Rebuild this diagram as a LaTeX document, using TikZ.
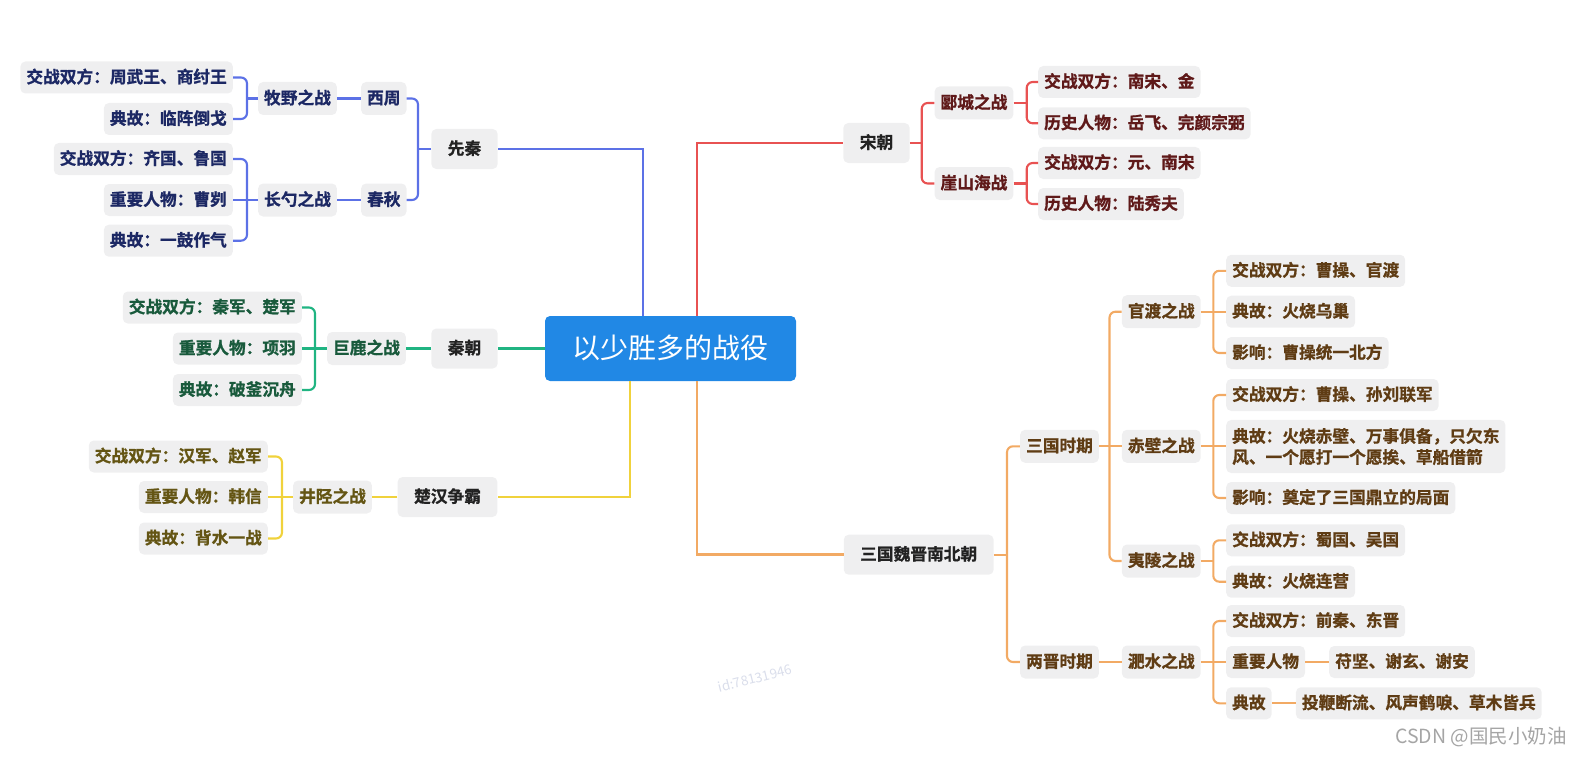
\documentclass[tikz,border=0pt]{standalone}
\usepackage{fontspec}
\setmainfont{Noto Sans CJK SC}[BoldFont={Noto Sans CJK SC Bold}, BoldFeatures={FakeBold=1.0}]
\definecolor{nodefill}{RGB}{239,239,240}
\definecolor{rootfill}{RGB}{33,136,229}
\definecolor{toptext}{RGB}{34,34,34}
\definecolor{bluel}{RGB}{92,113,230}
\definecolor{bluet}{RGB}{28,40,100}
\definecolor{greenl}{RGB}{32,180,130}
\definecolor{greent}{RGB}{25,90,60}
\definecolor{yellowl}{RGB}{240,210,60}
\definecolor{yellowt}{RGB}{100,85,20}
\definecolor{redl}{RGB}{232,82,82}
\definecolor{redt}{RGB}{95,25,25}
\definecolor{orangel}{RGB}{242,170,100}
\definecolor{oranget}{RGB}{95,60,20}
\definecolor{wmgray}{RGB}{218,222,235}
\definecolor{csdngray}{RGB}{165,165,165}
\tikzset{
  box/.style={fill=nodefill, rounded corners=5pt, font=\bfseries\fontsize{16.7}{21}\selectfont},
  boxh/.style={box, text height=14pt, text depth=3pt},
  topbox/.style={boxh, inner xsep=16.5pt, inner ysep=11.5pt, text=toptext},
  midbox/.style={boxh, inner xsep=6pt, inner ysep=8pt},
  leaf/.style={boxh, inner xsep=6pt, inner ysep=7.5pt},
  leafml/.style={box, inner xsep=6pt, inner ysep=8pt, align=left},
  rootbox/.style={fill=rootfill, rounded corners=5pt, text=white, font=\fontsize{28}{30}\selectfont,
    inner xsep=27.5pt, inner ysep=18pt, text height=24pt, text depth=5pt},
  ln/.style={line width=2.1pt, rounded corners=6pt},
  rootln/.style={line width=2.7pt},
}
\begin{document}
\begin{tikzpicture}[x=1pt, y=-1pt]
\useasboundingbox (0,0) rectangle (1582,757);

% root
\node[rootbox] (root) at (670.5,348.5) {以少胜多的战役};

% ---------------- blue: 先秦
\begin{scope}[every node/.append style={text=bluet}]
\node[topbox] (xianqin) at (464.5,149) {先秦};
\node[midbox] (xizhou) at (383.8,98.5) {西周};
\node[midbox] (chunqiu) at (383.8,200) {春秋};
\node[midbox] (muye) at (297.5,98.5) {牧野之战};
\node[midbox] (changshao) at (297.5,200) {长勺之战};
\node[leaf, anchor=east] (b1) at (233,77.5) {交战双方：周武王、商纣王};
\node[leaf, anchor=east] (b2) at (233,119) {典故：临阵倒戈};
\node[leaf, anchor=east] (b3) at (233,159) {交战双方：齐国、鲁国};
\node[leaf, anchor=east] (b4) at (233,200) {重要人物：曹刿};
\node[leaf, anchor=east] (b5) at (233,240.7) {典故：一鼓作气};
\end{scope}
\draw[rootln, bluel] ([xshift=-27.5pt]root.north) |- (xianqin.east);
\coordinate (jx) at (418,149);
\draw[ln, bluel] (xianqin.west) -- (jx);
\draw[ln, bluel] (xizhou.east) -| (jx) |- (chunqiu.east);
\draw[ln, bluel] (xizhou.west) -- (muye.east);
\draw[ln, bluel] (chunqiu.west) -- (changshao.east);
\coordinate (jm) at (247,98.5);
\draw[ln, bluel] (muye.west) -- (jm);
\draw[ln, bluel] (b1.east) -| (jm) |- (b2.east);
\coordinate (jc) at (247,200);
\draw[ln, bluel] (changshao.west) -- (b4.east);
\draw[ln, bluel] (b3.east) -| (jc) |- (b5.east);

% ---------------- green: 秦朝
\begin{scope}[every node/.append style={text=greent}]
\node[topbox] (qin) at (464.5,348.5) {秦朝};
\node[midbox] (julu) at (366.5,348.5) {巨鹿之战};
\node[leaf, anchor=east] (g1) at (302,307.5) {交战双方：秦军、楚军};
\node[leaf, anchor=east] (g2) at (302,348.5) {重要人物：项羽};
\node[leaf, anchor=east] (g3) at (302,390) {典故：破釜沉舟};
\end{scope}
\draw[rootln, greenl] (root.west) -- (qin.east);
\draw[ln, greenl] (qin.west) -- (julu.east);
\draw[ln, greenl] (julu.west) -- (g2.east);
\coordinate (jj) at (315,348.5);
\draw[ln, greenl] (g1.east) -| (jj) |- (g3.east);

% ---------------- yellow: 楚汉争霸
\begin{scope}[every node/.append style={text=yellowt}]
\node[topbox] (chuhan) at (447.5,497) {楚汉争霸};
\node[midbox] (jingxing) at (332.5,497) {井陉之战};
\node[leaf, anchor=east] (y1) at (268,456.5) {交战双方：汉军、赵军};
\node[leaf, anchor=east] (y2) at (268,497) {重要人物：韩信};
\node[leaf, anchor=east] (y3) at (268,538.5) {典故：背水一战};
\end{scope}
\draw[rootln, yellowl] ([xshift=-40.5pt]root.south) |- (chuhan.east);
\draw[ln, yellowl] (chuhan.west) -- (jingxing.east);
\draw[ln, yellowl] (jingxing.west) -- (y2.east);
\coordinate (jy) at (282,497);
\draw[ln, yellowl] (y1.east) -| (jy) |- (y3.east);

% ---------------- red: 宋朝
\begin{scope}[every node/.append style={text=redt}]
\node[topbox] (song) at (876.5,143) {宋朝};
\node[midbox] (yancheng) at (974,103) {郾城之战};
\node[midbox] (yashan) at (974,183.5) {崖山海战};
\node[leaf, anchor=west] (r1) at (1038,82) {交战双方：南宋、金};
\node[leaf, anchor=west] (r2) at (1038,123.3) {历史人物：岳飞、完颜宗弼};
\node[leaf, anchor=west] (r3) at (1038,163) {交战双方：元、南宋};
\node[leaf, anchor=west] (r4) at (1038,204) {历史人物：陆秀夫};
\end{scope}
\draw[rootln, redl] ([xshift=26.5pt]root.north) |- (song.west);
\coordinate (js) at (921.7,143);
\draw[ln, redl] (song.east) -- (js);
\draw[ln, redl] (yancheng.west) -| (js) |- (yashan.west);
\coordinate (jyc) at (1026.7,103);
\draw[ln, redl] (yancheng.east) -- (jyc);
\draw[ln, redl] (r1.west) -| (jyc) |- (r2.west);
\coordinate (jya) at (1026.7,183.5);
\draw[ln, redl] (yashan.east) -- (jya);
\draw[ln, redl] (r3.west) -| (jya) |- (r4.west);

% ---------------- orange: 三国魏晋南北朝
\begin{scope}[every node/.append style={text=oranget}]
\node[topbox] (nanbei) at (918.7,554.7) {三国魏晋南北朝};
\node[midbox] (sanguo) at (1059.5,446.3) {三国时期};
\node[midbox] (liangjin) at (1059.5,662) {两晋时期};
\node[midbox] (guandu) at (1161.3,311.7) {官渡之战};
\node[midbox] (chibi) at (1161.3,446.3) {赤壁之战};
\node[midbox] (yiling) at (1161.3,561) {夷陵之战};
\node[midbox] (feishui) at (1161.3,662) {淝水之战};
\node[leaf, anchor=west] (o1) at (1226,270.8) {交战双方：曹操、官渡};
\node[leaf, anchor=west] (o2) at (1226,311.7) {典故：火烧乌巢};
\node[leaf, anchor=west] (o3) at (1226,353) {影响：曹操统一北方};
\node[leaf, anchor=west] (o4) at (1226,395) {交战双方：曹操、孙刘联军};
\node[leafml, anchor=west] (o5) at (1226,446.5) {典故：火烧赤壁、万事俱备，只欠东\\风、一个愿打一个愿挨、草船借箭};
\node[leaf, anchor=west] (o6) at (1226,498) {影响：奠定了三国鼎立的局面};
\node[leaf, anchor=west] (o7) at (1226,540.3) {交战双方：蜀国、吴国};
\node[leaf, anchor=west] (o8) at (1226,581.7) {典故：火烧连营};
\node[leaf, anchor=west] (o9) at (1226,621) {交战双方：前秦、东晋};
\node[leaf, anchor=west] (o10) at (1226,662) {重要人物};
\node[leaf, anchor=west] (o11) at (1226,703.3) {典故};
\node[leaf, anchor=west] (o12) at (1329,662) {苻坚、谢玄、谢安};
\node[leaf, anchor=west] (o13) at (1295.7,703.3) {投鞭断流、风声鹤唳、草木皆兵};
\end{scope}
\draw[rootln, orangel] ([xshift=26.5pt]root.south) |- (nanbei.west);
\coordinate (jn) at (1007,554.7);
\draw[ln, orangel] (nanbei.east) -- (jn);
\draw[ln, orangel] (sanguo.west) -| (jn) |- (liangjin.west);
\coordinate (jsg) at (1109.5,446.3);
\draw[ln, orangel] (sanguo.east) -- (chibi.west);
\draw[ln, orangel] (guandu.west) -| (jsg) |- (yiling.west);
\draw[ln, orangel] (liangjin.east) -- (feishui.west);
\coordinate (jg) at (1213.3,311.7);
\draw[ln, orangel] (guandu.east) -- (o2.west);
\draw[ln, orangel] (o1.west) -| (jg) |- (o3.west);
\coordinate (jcb) at (1213.3,446.3);
\draw[ln, orangel] (chibi.east) -- (jcb);
\draw[ln, orangel] (o4.west) -| (jcb) |- (o6.west);
\draw[ln, orangel] (jcb) -- (o5.west |- jcb);
\coordinate (jyl) at (1213.3,561);
\draw[ln, orangel] (yiling.east) -- (jyl);
\draw[ln, orangel] (o7.west) -| (jyl) |- (o8.west);
\coordinate (jf) at (1213.3,662);
\draw[ln, orangel] (feishui.east) -- (o10.west);
\draw[ln, orangel] (o9.west) -| (jf) |- (o11.west);
\draw[ln, orangel] (o10.east) -- (o12.west);
\draw[ln, orangel] (o11.east) -- (o13.west);

% watermarks
\node[rotate=14, text=wmgray, font=\fontsize{13.5}{14}\selectfont] (wm) at (755,678) {id:78131946};
\node[anchor=east, text=csdngray, font=\fontsize{19.5}{20}\selectfont, inner sep=0pt] (csdn) at (1567,737) {CSDN @国民小奶油};
\end{tikzpicture}
\end{document}
